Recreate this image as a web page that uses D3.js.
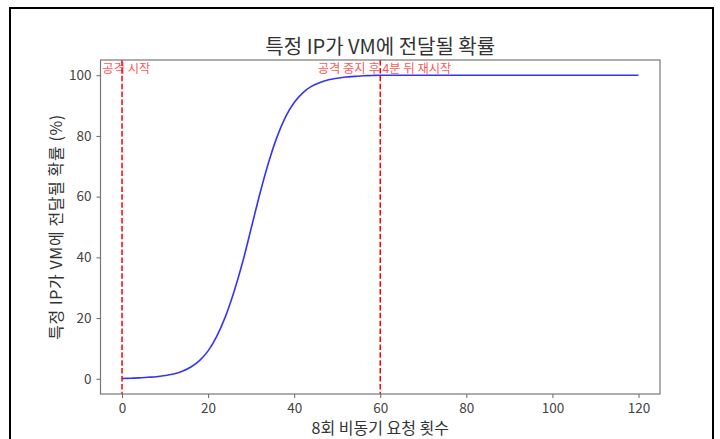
<!DOCTYPE html>
<html>
<head>
<meta charset="utf-8">
<script src="https://cdn.jsdelivr.net/npm/d3@7"></script>
<style>
  html, body { margin: 0; padding: 0; background: #fff; }
  svg { display: block; }
  text { font-family: "Noto Sans CJK KR", "Noto Sans", sans-serif; }
</style>
</head>
<body>
<svg id="chart" width="720" height="439"></svg>
<script>
// Request counts (x) and delivery probability in percent (y)
const requestCounts = [0, 2, 4, 6, 8, 10, 12, 14, 16, 18, 20, 22, 24, 26, 28, 30, 32, 34, 36, 38,
  40, 42, 44, 46, 48, 50, 52, 54, 56, 58, 60, 70, 80, 90, 100, 110, 120];
const probability = [0.1, 0.2, 0.3, 0.5, 0.7, 1.1, 1.6, 2.5, 3.9, 6.0, 9.2, 14.0, 20.4, 28.6, 38.3, 49.5, 60.8, 71.0, 79.6, 86.3,
  91.0, 94.2, 96.3, 97.6, 98.5, 99.0, 99.4, 99.6, 99.8, 99.9, 100, 100, 100, 100, 100, 100, 100];

// Event markers
const eventX = [0, 60];
const eventLabels = ["공격 시작", "공격 중지 후 4분 뒤 재시작"];

const xTicks = [0, 20, 40, 60, 80, 100, 120];
const yTicks = [0, 20, 40, 60, 80, 100];

const titleText = "특정 IP가 VM에 전달될 확률";
const xLabel = "8회 비동기 요청 횟수";
const yLabel = "특정 IP가 VM에 전달될 확률 (%)";

const svg = d3.select("#chart");
const plot = { left: 100.5, right: 660, top: 60, bottom: 394 };

const x = d3.scaleLinear().domain([-5, 125]).range([plot.left, plot.right]);
const y = d3.scaleLinear().domain([-5, 105]).range([plot.bottom, plot.top]);

// Figure border
svg.append("path")
  .attr("d", "M10,440 L10,8 L713,8 L713,440")
  .attr("fill", "none")
  .attr("stroke", "#000")
  .attr("stroke-width", 2);

// Probability curve
const line = d3.line()
  .x((d, i) => x(requestCounts[i]))
  .y(d => y(d))
  .curve(d3.curveMonotoneX);

svg.append("path")
  .datum(probability)
  .attr("d", line)
  .attr("fill", "none")
  .attr("stroke", "#0000ff")
  .attr("stroke-opacity", 0.8)
  .attr("stroke-width", 1.6);

// Event lines
svg.selectAll(".event")
  .data(eventX)
  .enter().append("line")
  .attr("x1", d => x(d)).attr("x2", d => x(d))
  .attr("y1", plot.top).attr("y2", plot.bottom)
  .attr("stroke", "#ff0000")
  .attr("stroke-width", 1.5)
  .attr("stroke-dasharray", "5.5,2.4");

svg.selectAll(".event-label")
  .data(eventX)
  .enter().append("text")
  .attr("x", d => x(d + 1))
  .attr("y", y(100) - 2)
  .attr("text-anchor", "middle")
  .attr("font-size", 12.3)
  .attr("fill", "#ff0000")
  .attr("fill-opacity", 0.7)
  .text((d, i) => eventLabels[i]);

// Axes
const xAxis = svg.append("g")
  .attr("transform", `translate(0,${plot.bottom})`)
  .call(d3.axisBottom(x).tickValues(xTicks).tickSize(4).tickPadding(5));
const yAxis = svg.append("g")
  .attr("transform", `translate(${plot.left},0)`)
  .call(d3.axisLeft(y).tickValues(yTicks).tickSize(4).tickPadding(5));

[xAxis, yAxis].forEach(g => {
  g.select(".domain").remove();
  g.selectAll(".tick line").attr("stroke", "#666");
  g.selectAll(".tick text").attr("fill", "#444").attr("font-size", 13.5)
    .style("font-family", '"Noto Sans CJK KR", "Noto Sans", sans-serif');
});

// Frame
svg.append("rect")
  .attr("x", plot.left).attr("y", plot.top)
  .attr("width", plot.right - plot.left).attr("height", plot.bottom - plot.top)
  .attr("fill", "none")
  .attr("stroke", "#777")
  .attr("stroke-width", 1.2);

// Titles
svg.append("text")
  .attr("x", (plot.left + plot.right) / 2)
  .attr("y", 54)
  .attr("text-anchor", "middle")
  .attr("font-size", 20)
  .attr("fill", "#333")
  .text(titleText);

svg.append("text")
  .attr("x", (plot.left + plot.right) / 2)
  .attr("y", 434)
  .attr("text-anchor", "middle")
  .attr("font-size", 16)
  .attr("fill", "#333")
  .text(xLabel);

svg.append("text")
  .attr("transform", `translate(62,${(plot.top + plot.bottom) / 2}) rotate(-90)`)
  .attr("text-anchor", "middle")
  .attr("font-size", 16)
  .attr("letter-spacing", 0.6)
  .attr("fill", "#333")
  .text(yLabel);
</script>
</body>
</html>
